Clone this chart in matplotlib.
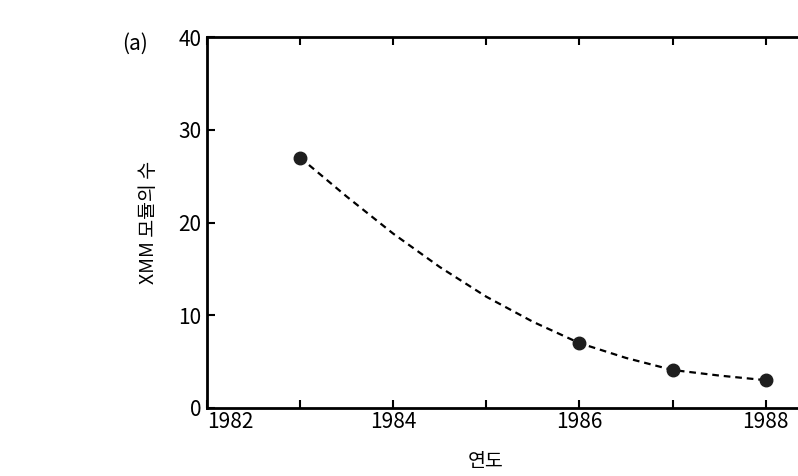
import numpy as np
import matplotlib as mpl
from matplotlib import pyplot as plt

plt.rcParams['font.family'] = ['Liberation Sans Narrow', 'Noto Sans CJK KR', 'DejaVu Sans']

# 측정점 (연도, XMM 모듈 수)
years = [1983, 1986, 1987, 1988]
counts = [27, 7, 4.1, 3]

# 그림에서 읽은 점선 곡선
curve_years = [1983, 1983.5, 1984, 1984.5, 1985, 1985.5, 1986, 1986.5, 1987, 1987.5, 1988]
curve_counts = [27, 22.8, 18.8, 15.2, 12.0, 9.3, 7.0, 5.4, 4.1, 3.5, 3.0]

xticks = [1982, 1984, 1986, 1988]
yticks = [0, 10, 20, 30, 40]

fig = plt.figure(figsize=(7.98, 4.76), dpi=100)
ax = fig.add_axes([207 / 798, 68 / 476, 1 - 207 / 798, 371 / 476])

ax.plot(curve_years, curve_counts, color='black', lw=1.6, dashes=(3, 2.2))
ax.plot(years, counts, 'o', color='#1e1e1e', ms=9)

ax.set_xlim(1982, 1982 + 591 / 93.1)
ax.set_ylim(0, 40)
ax.set_xticks(xticks)
ax.set_xticks(range(1982, 1989), minor=True)
ax.set_yticks(yticks)
ax.set_xticklabels([str(t) for t in xticks])
ax.tick_params(which='both', direction='in', top=True, width=1.5, labelsize=15)
ax.tick_params(which='major', length=6)
ax.tick_params(which='minor', length=6)
ax.tick_params(axis='y', pad=4)
ax.tick_params(axis='x', pad=2)
for side in ['left', 'top', 'bottom']:
    ax.spines[side].set_linewidth(2)
ax.spines['right'].set_visible(False)
ax.xaxis.get_majorticklabels()[0].set_horizontalalignment('left')
ax.xaxis.get_majorticklabels()[0].set_x(1981.97)

fig.text(486 / 798, 1 - 462 / 476, '연도', ha='center', va='center', fontsize=14,
         family=['Noto Sans CJK KR', 'DejaVu Sans'])
fig.text(148 / 798, 1 - 222 / 476, 'XMM 모듈의 수', ha='center', va='center', rotation=90,
         fontsize=14, family=['Noto Sans CJK KR', 'DejaVu Sans'])
fig.text(135 / 798, 1 - 44 / 476, '(a)', ha='center', va='center', fontsize=15)

plt.savefig('out.png', dpi=100)
plt.close()
